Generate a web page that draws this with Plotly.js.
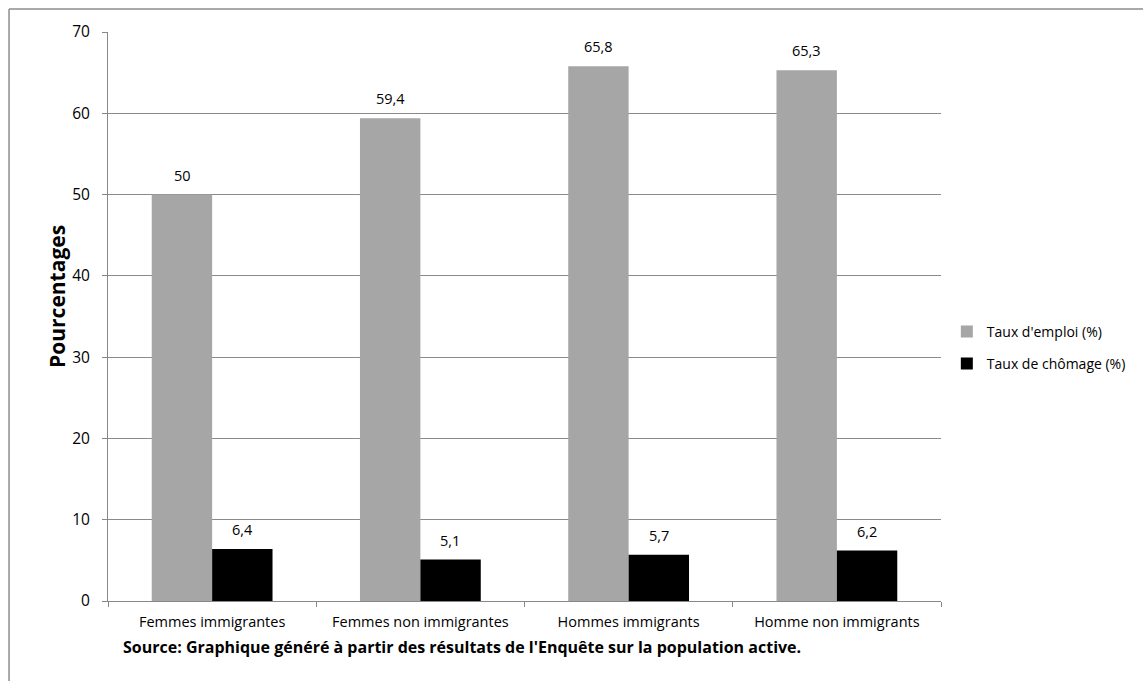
<!DOCTYPE html>
<html>
<head>
<meta charset="utf-8">
<script src="https://cdn.plot.ly/plotly-3.0.1.min.js"></script>
<style>
  html, body { margin: 0; padding: 0; background: #ffffff; }
  #chart { width: 1143px; height: 681px; }
</style>
</head>
<body>
<div id="chart"></div>
<script>
// Groupes de population
const categories = ["Femmes immigrantes", "Femmes non immigrantes", "Hommes immigrants", "Homme non immigrants"];
// Taux d'emploi (%)
const tauxEmploi = [50, 59.4, 65.8, 65.3];
// Taux de chômage (%)
const tauxChomage = [6.4, 5.1, 5.7, 6.2];
const yTicks = [0, 10, 20, 30, 40, 50, 60, 70];

const fr = v => String(v).replace('.', ',');
const FONT = '"Open Sans", Lato, sans-serif';

const traces = [
  {
    type: 'bar', name: "Taux d'emploi (%)", x: categories, y: tauxEmploi,
    marker: { color: '#a6a6a6' },
    legendgroup: 'a', hoverinfo: 'x+y'
  },
  {
    type: 'bar', name: 'Taux de chômage (%)', x: categories, y: tauxChomage,
    marker: { color: '#000000' },
    legendgroup: 'b', hoverinfo: 'x+y'
  }
];

// Étiquettes de valeur au-dessus de chaque barre (décalées vers la barre du groupe)
const valueLabels = [];
categories.forEach((c, i) => {
  valueLabels.push({ x: c, y: tauxEmploi[i], text: fr(tauxEmploi[i]), xshift: -30 });
  valueLabels.push({ x: c, y: tauxChomage[i], text: fr(tauxChomage[i]), xshift: 30 });
});
const labelAnnotations = valueLabels.map(l => ({
  x: l.x, y: l.y, xref: 'x', yref: 'y', text: l.text,
  xshift: l.xshift, yshift: 8, xanchor: 'center', yanchor: 'bottom',
  showarrow: false, font: { family: FONT, size: 14.5, color: '#000' }
}));

const layout = {
  width: 1143, height: 681,
  margin: { l: 108, r: 202, t: 32, b: 80 },
  paper_bgcolor: '#ffffff', plot_bgcolor: '#ffffff',
  font: { family: FONT, size: 14, color: '#000' },
  barmode: 'group', bargap: 0.42, bargroupgap: 0,
  showlegend: true,
  legend: {
    x: 1.007, xanchor: 'left', y: 0.445, yanchor: 'middle',
    font: { family: FONT, size: 14, color: '#000' },
    tracegroupgap: 11, bgcolor: 'rgba(0,0,0,0)'
  },
  xaxis: {
    type: 'category', tickson: 'boundaries',
    ticks: 'outside', ticklen: 5, tickcolor: '#888',
    ticklabelstandoff: 8,
    showline: true, linecolor: '#888', linewidth: 1,
    showgrid: false, tickfont: { family: FONT, size: 14.5, color: '#000' },
    fixedrange: true
  },
  yaxis: {
    range: [0, 70], tickvals: yTicks, ticktext: yTicks.map(String),
    ticks: 'outside', ticklen: 5, tickcolor: '#888',
    ticklabelstandoff: 9,
    showline: true, linecolor: '#888', linewidth: 1,
    showgrid: true, gridcolor: '#8a8a8a', gridwidth: 1,
    zeroline: false, tickfont: { family: FONT, size: 15.5, color: '#000' },
    fixedrange: true
  },
  annotations: labelAnnotations.concat([
    {
      text: '<b>Pourcentages</b>', textangle: -90,
      xref: 'paper', yref: 'paper', x: -0.062, y: 0.535,
      xanchor: 'center', yanchor: 'middle', showarrow: false,
      font: { family: FONT, size: 21, color: '#000' }
    },
    {
      text: "<b>Source: Graphique généré à partir des résultats de l'Enquête sur la population active.</b>",
      xref: 'paper', yref: 'paper', x: 0.425, y: -0.08,
      xanchor: 'center', yanchor: 'middle', showarrow: false,
      font: { family: FONT, size: 16, color: '#000' }
    }
  ]),
  shapes: [
    // cadre du graphique
    { type: 'line', xref: 'paper', yref: 'paper', x0: -0.1188, x1: -0.1188, y0: -0.25, y1: 1.0404,
      line: { color: '#8c8c8c', width: 1.5 } },
    { type: 'line', xref: 'paper', yref: 'paper', x0: -0.1188, x1: 1.3, y0: 1.0404, y1: 1.0404,
      line: { color: '#8c8c8c', width: 1.5 } }
  ]
};

Plotly.newPlot('chart', traces, layout, { displayModeBar: false, staticPlot: true });
</script>
</body>
</html>
